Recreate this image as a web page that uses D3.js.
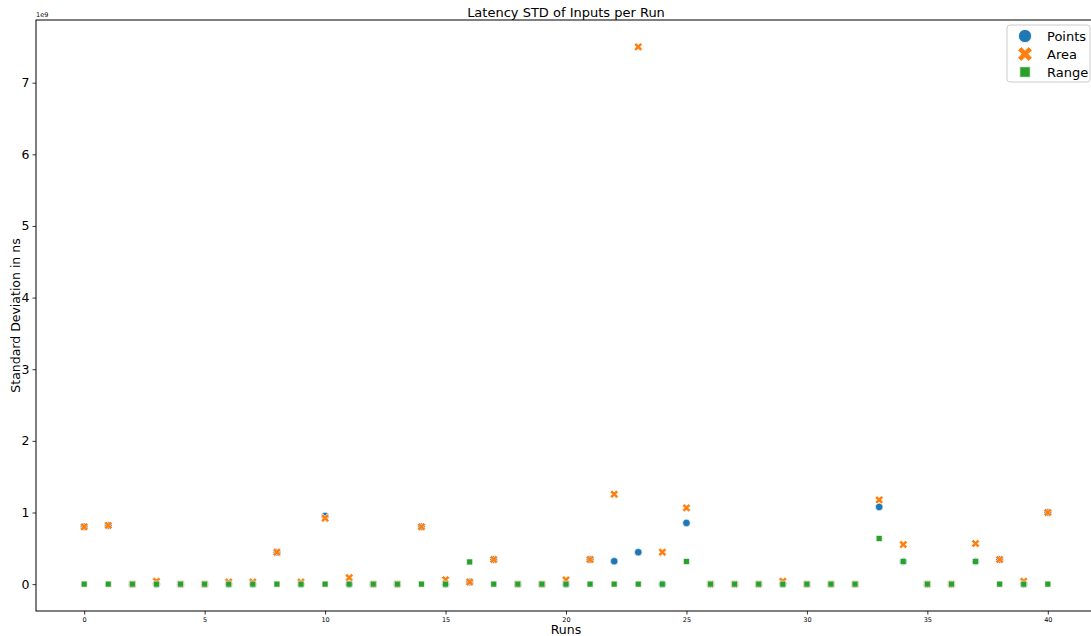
<!DOCTYPE html>
<html>
<head>
<meta charset="utf-8">
<script src="https://cdn.jsdelivr.net/npm/d3@7"></script>
<style>
  html, body { margin: 0; padding: 0; background: #fff; }
  svg { display: block; font-family: "DejaVu Sans", sans-serif; }
</style>
</head>
<body>
<svg id="chart" width="1091" height="636"></svg>
<script>
// Run indices 0..40
const runs = d3.range(0, 41);

// Standard deviation per run, in units of 1e9 ns
const pointsStd = [0.80, 0.82, 0, 0, 0, 0, 0, 0, 0.446, 0, 0.95, 0, 0, 0, 0.80, 0,
  0.03, 0.344, 0, 0, 0, 0.344, 0.32, 0.446, 0, 0.855, 0, 0, 0, 0, 0, 0, 0,
  1.078, 0.316, 0, 0, 0.316, 0.344, 0, 1.0];
const areaStd = [0.80, 0.82, 0, 0.04, 0, 0, 0.03, 0.03, 0.446, 0.03, 0.92, 0.09, 0, 0, 0.80, 0.06,
  0.03, 0.344, 0, 0, 0.06, 0.344, 1.255, 7.50, 0.446, 1.064, 0, 0, 0, 0.04, 0, 0, 0,
  1.176, 0.553, 0, 0, 0.567, 0.344, 0.04, 1.0];
const rangeStd = [0, 0, 0, 0, 0, 0, 0, 0, 0, 0, 0, 0, 0, 0, 0, 0,
  0.31, 0, 0, 0, 0, 0, 0, 0, 0, 0.316, 0, 0, 0, 0, 0, 0, 0,
  0.637, 0.316, 0, 0, 0.316, 0, 0, 0];

const seriesNames = ["Points", "Area", "Range"];
const seriesColors = ["#1f77b4", "#ff7f0e", "#2ca02c"];
const yTicks = [0, 1, 2, 3, 4, 5, 6, 7];
const xTicks = [0, 5, 10, 15, 20, 25, 30, 35, 40];

const series = [
  { name: seriesNames[0], color: seriesColors[0], values: pointsStd, shape: "circle" },
  { name: seriesNames[1], color: seriesColors[1], values: areaStd, shape: "x" },
  { name: seriesNames[2], color: seriesColors[2], values: rangeStd, shape: "square" }
];

const svg = d3.select("#chart");
const plot = { left: 36, right: 1096, top: 20, bottom: 611 };

const x = d3.scaleLinear().domain([-2, 42]).range([plot.left, plot.right]);
const y = d3.scaleLinear().domain([-0.375, 7.875]).range([plot.bottom, plot.top]);

function symbolPath(shape, scale) {
  const s = scale || 1;
  if (shape === "circle") return d3.symbol(d3.symbolCircle, 44 * s * s)();
  if (shape === "square") return d3.symbol(d3.symbolSquare, 36 * s * s)();
  return d3.symbol(d3.symbolCross, 44 * s * s)();
}

// Markers, drawn series by series so later ones sit on top
series.forEach(ser => {
  svg.append("g")
    .selectAll("path")
    .data(runs.map(r => ({ run: r, v: ser.values[r] })))
    .join("path")
    .attr("d", symbolPath(ser.shape))
    .attr("transform", d => `translate(${x(d.run)},${y(d.v)})` + (ser.shape === "x" ? " rotate(45)" : ""))
    .attr("fill", ser.color)
    .attr("stroke", "#fff")
    .attr("stroke-width", 0.6);
});

// Axes
const xAxis = d3.axisBottom(x).tickValues(xTicks).tickSize(3.5).tickPadding(3);
const gx = svg.append("g").attr("transform", `translate(0,${plot.bottom})`).call(xAxis);
gx.select(".domain").remove();
gx.selectAll("text").attr("font-size", 6.5).attr("fill", "#000").attr("font-family", "DejaVu Sans");
gx.selectAll("line").attr("stroke", "#000").attr("stroke-width", 0.8);

const yAxis = d3.axisLeft(y).tickValues(yTicks).tickSize(3.5).tickPadding(3).tickFormat(d3.format("d"));
const gy = svg.append("g").attr("transform", `translate(${plot.left},0)`).call(yAxis);
gy.select(".domain").remove();
gy.selectAll("text").attr("font-size", 12.5).attr("fill", "#000").attr("font-family", "DejaVu Sans");
gy.selectAll("line").attr("stroke", "#000").attr("stroke-width", 0.8);

// Frame
svg.append("rect")
  .attr("x", plot.left).attr("y", plot.top)
  .attr("width", plot.right - plot.left).attr("height", plot.bottom - plot.top)
  .attr("fill", "none").attr("stroke", "#000").attr("stroke-width", 1);

// Offset text for the y scale
svg.append("text").attr("x", plot.left).attr("y", 17)
  .attr("font-size", 6.5).text("1e9");

// Title and axis labels
svg.append("text").attr("x", (plot.left + plot.right) / 2).attr("y", 17)
  .attr("text-anchor", "middle").attr("font-size", 13).text("Latency STD of Inputs per Run");
svg.append("text").attr("x", (plot.left + plot.right) / 2).attr("y", 634)
  .attr("text-anchor", "middle").attr("font-size", 12.5).text("Runs");
svg.append("text")
  .attr("transform", `translate(20,${(plot.top + plot.bottom) / 2}) rotate(-90)`)
  .attr("text-anchor", "middle").attr("font-size", 12.5).text("Standard Deviation in ns");

// Legend
const legend = svg.append("g").attr("transform", "translate(1007,25)");
legend.append("rect").attr("width", 83).attr("height", 57).attr("rx", 3)
  .attr("fill", "#fff").attr("fill-opacity", 0.8).attr("stroke", "#ccc").attr("stroke-width", 1);
series.forEach((ser, i) => {
  const row = legend.append("g").attr("transform", `translate(0,${11 + i * 18})`);
  row.append("path").attr("d", symbolPath(ser.shape, 1.75))
    .attr("transform", "translate(18,0)" + (ser.shape === "x" ? " rotate(45)" : ""))
    .attr("fill", ser.color).attr("stroke", "#fff").attr("stroke-width", 0.8);
  row.append("text").attr("x", 40).attr("y", 4.5).attr("font-size", 13).text(ser.name);
});
</script>
</body>
</html>
